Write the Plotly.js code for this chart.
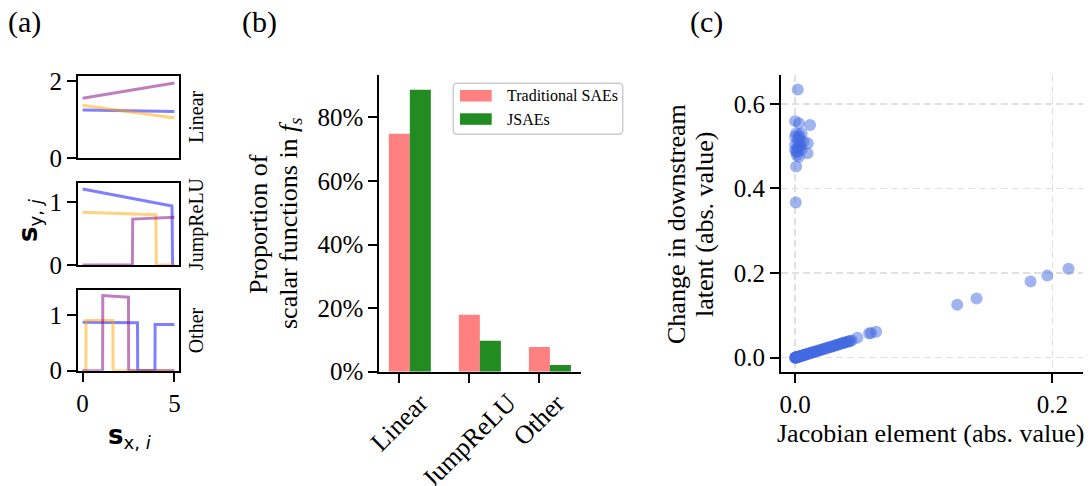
<!DOCTYPE html>
<html>
<head>
<meta charset="utf-8">
<script src="https://cdn.plot.ly/plotly-3.0.1.min.js"></script>
<style>html,body{margin:0;padding:0;background:#fff}</style>
</head>
<body>
<div id="chart" style="width:1092px;height:486px"></div>
<script>
// ---- Panel (a): example scalar functions s_y,j = f(s_x,i) ----
const linearX = [0, 5];
const linearBlue = [1.25, 1.21];
const linearOrange = [1.37, 1.04];
const linearPurple = [1.55, 1.95];

const jumpBlueX = [0, 4.87, 4.9, 5];
const jumpBlueY = [1.21, 0.94, 0, 0];
const jumpOrangeX = [0, 3.99, 4.02, 5];
const jumpOrangeY = [0.84, 0.80, 0, 0];
const jumpPurpleX = [0, 2.71, 2.73, 5];
const jumpPurpleY = [0, 0, 0.73, 0.76];

const otherBlueX = [0, 2.99, 3.0, 3.94, 3.95, 5];
const otherBlueY = [0.87, 0.86, 0, 0, 0.83, 0.83];
const otherOrangeX = [0, 0.18, 0.19, 1.65, 1.66, 5];
const otherOrangeY = [0, 0, 0.90, 0.90, 0, 0];
const otherPurpleX = [0, 1.09, 1.1, 2.5, 2.51, 5];
const otherPurpleY = [0, 0, 1.35, 1.32, 0, 0];

const rowNames = ['Linear', 'JumpReLU', 'Other'];

// ---- Panel (b): share of scalar function types ----
const categories = ['Linear', 'JumpReLU', 'Other'];
const seriesNames = ['Traditional SAEs', 'JSAEs'];
const traditionalPct = [74.8, 17.9, 7.8];
const jsaePct = [88.7, 9.7, 2.1];
const pctTicks = [0, 20, 40, 60, 80];

// ---- Panel (c): Jacobian element vs. change in downstream latent ----
const jacobianAbs = [
  0.002, 0.0, 0.003, 0.0116, 0.0008, 0.005, 0.0, 0.0034, 0.0065, 0.0098,
  0.0, 0.0026, 0.0, 0.0096, 0.0013, 0.0008, 0.0005, 0.002, 0.004, 0.001,
  0.003, 0.004, 0.002, 0.005, 0.0015, 0.003,
  0.0, 0.0001, 0.0002, 0.0004, 0.0006, 0.0008, 0.001, 0.0012, 0.0015, 0.0018,
  0.0021, 0.0025, 0.0029, 0.0033, 0.0037, 0.0042, 0.0047, 0.0052, 0.0058, 0.0064,
  0.007, 0.0077, 0.0084, 0.0091, 0.0098, 0.0106, 0.0114, 0.0122, 0.013, 0.0139,
  0.0148, 0.0157, 0.0166, 0.0175, 0.0185, 0.0195, 0.0205, 0.0215, 0.0226, 0.0237,
  0.0248, 0.0259, 0.027, 0.0281, 0.0292, 0.0303, 0.0314, 0.0325, 0.0336, 0.0347,
  0.0358, 0.0368, 0.0378, 0.0388, 0.0398, 0.0408, 0.0418, 0.0428, 0.044, 0.0484,
  0.0575, 0.059, 0.063, 0.126, 0.141, 0.183, 0.196, 0.2125
];
const latentChangeAbs = [
  0.634, 0.559, 0.554, 0.550, 0.530, 0.530, 0.522, 0.519, 0.511, 0.507,
  0.503, 0.495, 0.491, 0.483, 0.479, 0.452, 0.367, 0.515, 0.500, 0.486,
  0.525, 0.505, 0.498, 0.492, 0.488, 0.475,
  0.0, 0.0001, 0.0003, 0.0003, 0.0006, 0.0007, 0.0009, 0.0012, 0.0013, 0.0017,
  0.0019, 0.0023, 0.0026, 0.0031, 0.0034, 0.0038, 0.0044, 0.0048, 0.0053, 0.006,
  0.0065, 0.0071, 0.0078, 0.0084, 0.0092, 0.0098, 0.0105, 0.0113, 0.0121, 0.0128,
  0.0138, 0.0145, 0.0155, 0.0162, 0.0172, 0.018, 0.0191, 0.0199, 0.021, 0.0219,
  0.0231, 0.0239, 0.0251, 0.026, 0.0272, 0.028, 0.0292, 0.0301, 0.0313, 0.0322,
  0.0334, 0.0342, 0.0352, 0.036, 0.0371, 0.0379, 0.039, 0.0398, 0.041, 0.0473,
  0.0575, 0.0585, 0.0615, 0.125, 0.140, 0.180, 0.194, 0.210
];
const jacTicks = [0, 0.2];
const latentTicks = [0, 0.2, 0.4, 0.6];

// ---- helpers: pixel positions -> paper fractions ----
const W = 1092, H = 486;
const fx = px => px / W;
const fy = py => 1 - py / H;

const serif = 'Liberation Serif, Times New Roman, serif';
const sans = 'DejaVu Sans, sans-serif';
const black = '#000';
const TICK = 25, TITLE = 26;

const blue = 'rgba(0,0,255,0.5)';
const orange = 'rgba(255,165,0,0.5)';
const purple = 'rgba(128,0,128,0.5)';
const tradColor = '#ff8080';
const jsaeColor = '#228b22';
const dotColor = 'rgba(65,105,225,0.5)';

function axis(extra) {
  return Object.assign({
    showline: true, linecolor: black, linewidth: 2, mirror: false,
    zeroline: false, showgrid: false,
    ticks: 'outside', ticklen: 9, tickwidth: 2, tickcolor: black,
    tickfont: {family: serif, size: TICK, color: black}
  }, extra);
}

function fnLine(x, y, color, xa, ya) {
  return {type: 'scatter', mode: 'lines', x: x, y: y, xaxis: xa, yaxis: ya,
          line: {color: color, width: 3}, hoverinfo: 'skip', showlegend: false};
}

const traces = [
  fnLine(linearX, linearBlue, blue, 'x', 'y'),
  fnLine(linearX, linearOrange, orange, 'x', 'y'),
  fnLine(linearX, linearPurple, purple, 'x', 'y'),
  fnLine(jumpBlueX, jumpBlueY, blue, 'x2', 'y2'),
  fnLine(jumpOrangeX, jumpOrangeY, orange, 'x2', 'y2'),
  fnLine(jumpPurpleX, jumpPurpleY, purple, 'x2', 'y2'),
  fnLine(otherBlueX, otherBlueY, blue, 'x3', 'y3'),
  fnLine(otherOrangeX, otherOrangeY, orange, 'x3', 'y3'),
  fnLine(otherPurpleX, otherPurpleY, purple, 'x3', 'y3'),
  {type: 'bar', name: seriesNames[0], x: categories.map((c, i) => i), y: traditionalPct,
   width: 0.3, offset: -0.15, marker: {color: tradColor}, xaxis: 'x4', yaxis: 'y4', showlegend: false},
  {type: 'bar', name: seriesNames[1], x: categories.map((c, i) => i), y: jsaePct,
   width: 0.3, offset: 0.15, marker: {color: jsaeColor}, xaxis: 'x4', yaxis: 'y4', showlegend: false},
  {type: 'scatter', mode: 'markers', x: jacobianAbs, y: latentChangeAbs, xaxis: 'x5', yaxis: 'y5',
   marker: {size: 12, color: dotColor, line: {width: 0}}, showlegend: false}
];

// panel (a) frames
const aX = [fx(78), fx(179)];
const aRows = [[76, 158], [183.3, 265], [290, 370.7]];
const aXRange = [-0.25, 5.25];

const layout = {
  width: W, height: H,
  margin: {l: 0, r: 0, t: 0, b: 0},
  paper_bgcolor: '#fff', plot_bgcolor: '#fff',
  font: {family: serif, color: black},
  barmode: 'overlay',
  showlegend: false,
  xaxis: axis({domain: aX, range: aXRange, anchor: 'y', mirror: true, ticks: '', showticklabels: false}),
  yaxis: axis({domain: [fy(aRows[0][1]), fy(aRows[0][0])], range: [0, 2.13], anchor: 'x', mirror: true, tickvals: [0, 2]}),
  xaxis2: axis({domain: aX, range: aXRange, anchor: 'y2', mirror: true, ticks: '', showticklabels: false}),
  yaxis2: axis({domain: [fy(aRows[1][1]), fy(aRows[1][0])], range: [0, 1.3], anchor: 'x2', mirror: true, tickvals: [0, 1]}),
  xaxis3: axis({domain: aX, range: aXRange, anchor: 'y3', mirror: true, tickvals: [0, 5]}),
  yaxis3: axis({domain: [fy(aRows[2][1]), fy(aRows[2][0])], range: [0, 1.45], anchor: 'x3', mirror: true, tickvals: [0, 1]}),
  xaxis4: axis({domain: [fx(379.3), fx(580.7)], range: [-0.286, 2.59], anchor: 'y4',
                tickvals: categories.map((c, i) => i), showticklabels: false}),
  yaxis4: axis({domain: [fy(371.7), fy(75)], range: [0, 93.3], anchor: 'x4',
                tickvals: pctTicks, ticktext: pctTicks.map(v => v + '%')}),
  xaxis5: axis({domain: [fx(781), fx(1083.3)], range: [-0.011, 0.224], anchor: 'y5',
                tickvals: jacTicks, ticktext: jacTicks.map(v => v.toFixed(1)),
                showgrid: true, gridcolor: '#e0e0e0', gridwidth: 1.5, griddash: '7px,4px'}),
  yaxis5: axis({domain: [fy(371.7), fy(75)], range: [-0.033, 0.668], anchor: 'x5',
                tickvals: latentTicks, ticktext: latentTicks.map(v => v.toFixed(1)),
                showgrid: true, gridcolor: '#e0e0e0', gridwidth: 1.5, griddash: '7px,4px'}),
  shapes: [],
  annotations: []
};

function note(text, px, py, opts) {
  layout.annotations.push(Object.assign({
    text: text, xref: 'paper', yref: 'paper', x: fx(px), y: fy(py),
    xanchor: 'center', yanchor: 'middle', showarrow: false,
    font: {family: serif, size: TITLE, color: black}
  }, opts || {}));
}

// panel labels
const panelFont = {family: serif, size: 30, color: black};
note('(a)', 24.5, 21.5, {font: panelFont});
note('(b)', 259, 22.5, {font: panelFont});
note('(c)', 706, 22, {font: panelFont});

// panel (a) titles
note('<b>s</b><sub>y, <i>j</i></sub>', 30, 220, {textangle: -90, font: {family: sans, size: TITLE, color: black}});
note('<b>s</b><sub>x, <i>i</i></sub>', 129, 436, {font: {family: sans, size: TITLE, color: black}});
rowNames.forEach((name, k) => {
  note(name, 196, (aRows[k][0] + aRows[k][1]) / 2, {textangle: -90, font: {family: serif, size: 20, color: black}});
});

// panel (b) titles and rotated category labels
note('Proportion of', 258, 224, {textangle: -90});
note('scalar functions in <i>f</i><sub><i>s</i></sub>', 290, 224, {textangle: -90});
categories.forEach((c, i) => {
  layout.annotations.push({
    text: c, xref: 'x4', yref: 'paper', x: i, y: fy(385),
    xanchor: 'center', yanchor: 'top', textangle: -45, showarrow: false,
    font: {family: serif, size: TITLE, color: black}
  });
});

// panel (b) legend
function roundRect(x0, y0, x1, y1, r) {
  const X = fx, Y = fy;
  return 'M' + X(x0 + r) + ',' + Y(y0) + ' L' + X(x1 - r) + ',' + Y(y0) +
    ' Q' + X(x1) + ',' + Y(y0) + ' ' + X(x1) + ',' + Y(y0 + r) +
    ' L' + X(x1) + ',' + Y(y1 - r) +
    ' Q' + X(x1) + ',' + Y(y1) + ' ' + X(x1 - r) + ',' + Y(y1) +
    ' L' + X(x0 + r) + ',' + Y(y1) +
    ' Q' + X(x0) + ',' + Y(y1) + ' ' + X(x0) + ',' + Y(y1 - r) +
    ' L' + X(x0) + ',' + Y(y0 + r) +
    ' Q' + X(x0) + ',' + Y(y0) + ' ' + X(x0 + r) + ',' + Y(y0) + ' Z';
}
layout.shapes.push({type: 'path', xref: 'paper', yref: 'paper', path: roundRect(453.3, 83.3, 622.7, 134.3, 4),
  line: {color: '#cccccc', width: 1.5}, fillcolor: 'rgba(255,255,255,0.8)'});
[tradColor, jsaeColor].forEach((col, k) => {
  const top = k === 0 ? 90 : 113.3;
  layout.shapes.push({type: 'rect', xref: 'paper', yref: 'paper',
    x0: fx(460), x1: fx(491.7), y0: fy(top + 11.5), y1: fy(top),
    line: {width: 0}, fillcolor: col});
  layout.annotations.push({text: seriesNames[k], xref: 'paper', yref: 'paper',
    x: fx(505), y: fy(top + 5.8), xanchor: 'left', yanchor: 'middle', showarrow: false,
    font: {family: serif, size: 16, color: black}});
});

// panel (c) titles
note('Change in downstream', 676, 224, {textangle: -90});
note('latent (abs. value)', 704, 224, {textangle: -90});
note('Jacobian element (abs. value)', 930.5, 433);

Plotly.newPlot('chart', traces, layout, {displayModeBar: false, staticPlot: true});
</script>
</body>
</html>
